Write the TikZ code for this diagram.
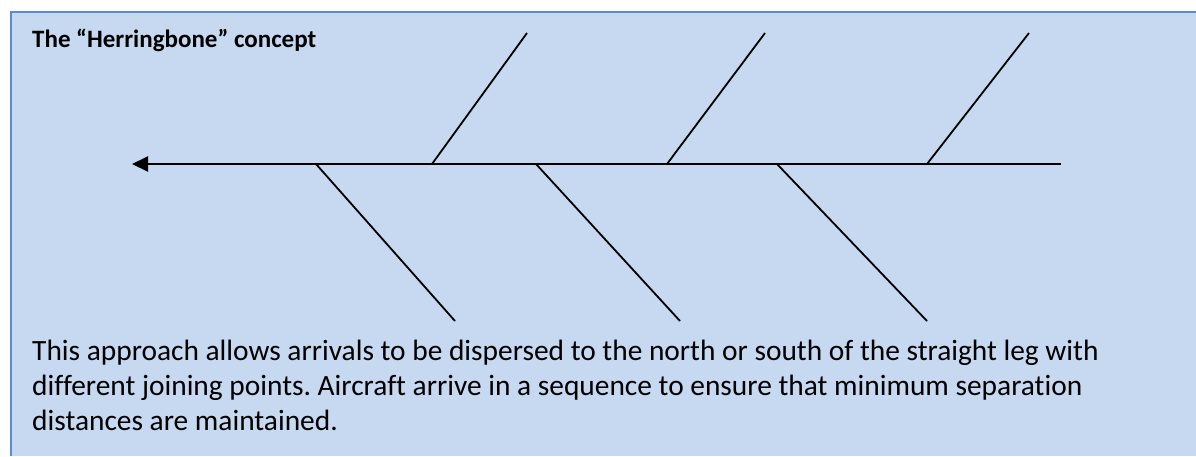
\documentclass[tikz,border=0pt]{standalone}
\usepackage{fontspec}
\setmainfont{Carlito}[Ligatures={NoCommon}]
\usetikzlibrary{arrows.meta, positioning}
\definecolor{panelfill}{RGB}{198,217,241}
\definecolor{panelrule}{RGB}{85,142,213}
\frenchspacing

\begin{document}
\begin{tikzpicture}[x=1pt, y=-1pt,
    every node/.style={anchor=base west, inner sep=0pt},
    title/.style={font=\fontsize{25}{30}\selectfont\bfseries},
    body/.style={font=\fontsize{29.4}{36}\selectfont},
    bone/.style={line width=1.8pt},
    spine/.style={line width=2pt, -{Triangle[length=16pt, width=15pt]}}
]
\useasboundingbox (0,0) rectangle (1196,456);
\fill[panelfill] (11,12) rectangle (1196,456);
\draw[panelrule, line width=2pt] (11,456) -- (11,12) -- (1196,12);

\node[title] (heading) at (32,47) {The “Herringbone” concept};

% straight leg
\coordinate (legE) at (1061,164);
\coordinate (legW) at (132,164);
\draw[spine] (legE) -- (legW);

% joining points from the north
\coordinate (nA) at (432,164);
\coordinate (nAend) at (527,33);
\coordinate (nB) at (667,164);
\coordinate (nBend) at (765,33);
\coordinate (nC) at (927,164);
\coordinate (nCend) at (1029,33);
\draw[bone] (nA) -- (nAend);
\draw[bone] (nB) -- (nBend);
\draw[bone] (nC) -- (nCend);

% joining points from the south
\coordinate (sA) at (316,164);
\coordinate (sAend) at (455,321);
\coordinate (sB) at (536,164);
\coordinate (sBend) at (680,321);
\coordinate (sC) at (777,164);
\coordinate (sCend) at (927,321);
\draw[bone] (sA) -- (sAend);
\draw[bone] (sB) -- (sBend);
\draw[bone] (sC) -- (sCend);

\node[body] (lineA) at (32,360) {This approach allows arrivals to be dispersed to the north or south of the straight leg with};
\node[body] (lineB) at (32,395) {different joining points. Aircraft arrive in a sequence to ensure that minimum separation};
\node[body] (lineC) at (32,430) {distances are maintained.};

\end{tikzpicture}
\end{document}
